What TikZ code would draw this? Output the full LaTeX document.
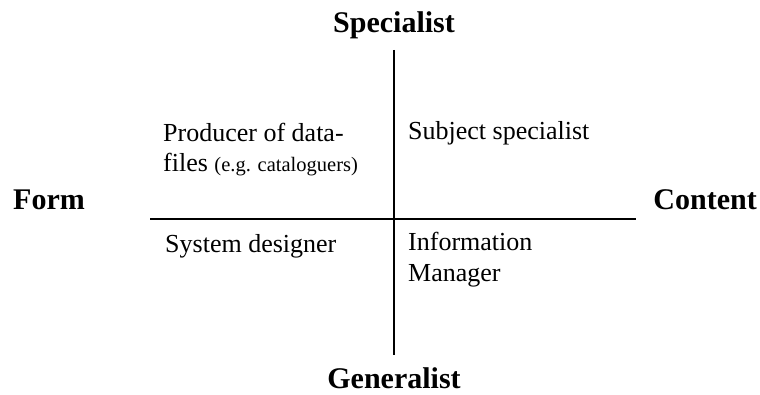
\documentclass[tikz,border=0pt]{standalone}
\usepackage{fontspec}
\setmainfont{Liberation Serif}
\usetikzlibrary{positioning}
\tikzset{
  axisline/.style={line width=1.4pt,color=black},
  polelabel/.style={inner sep=0pt,font=\fontsize{30}{34}\selectfont\bfseries},
  rolelabel/.style={inner sep=0pt,align=left,anchor=base west,font=\fontsize{26}{30.5}\selectfont}
}

\begin{document}
\begin{tikzpicture}[x=1pt,y=1pt]
\useasboundingbox (0,0) rectangle (760,394);

\coordinate (T) at (394,344);
\coordinate (B) at (394,39);
\coordinate (L) at (150,175);
\coordinate (R) at (636,175);

\draw[axisline] (T) -- (B);
\draw[axisline] (L) -- (R);

\node[polelabel,anchor=base] (spec) at (394,361) {Specialist};
\node[polelabel,anchor=base] (gen) at (394,6) {Generalist};
\node[polelabel,anchor=base west] (form) at (13,184) {Form};
\node[polelabel,anchor=base east] (cont) at (757,185) {Content};

\node[rolelabel] (prod) at (163,222) {Producer of data-\\files {\fontsize{20.5}{24}\selectfont (e.g. cataloguers)}};
\node[rolelabel] (subj) at (408,254) {Subject specialist};
\node[rolelabel] (sysd) at (165,142) {System designer};
\node[rolelabel] (info) at (408,113) {Information\\Manager};

\end{tikzpicture}
\end{document}
